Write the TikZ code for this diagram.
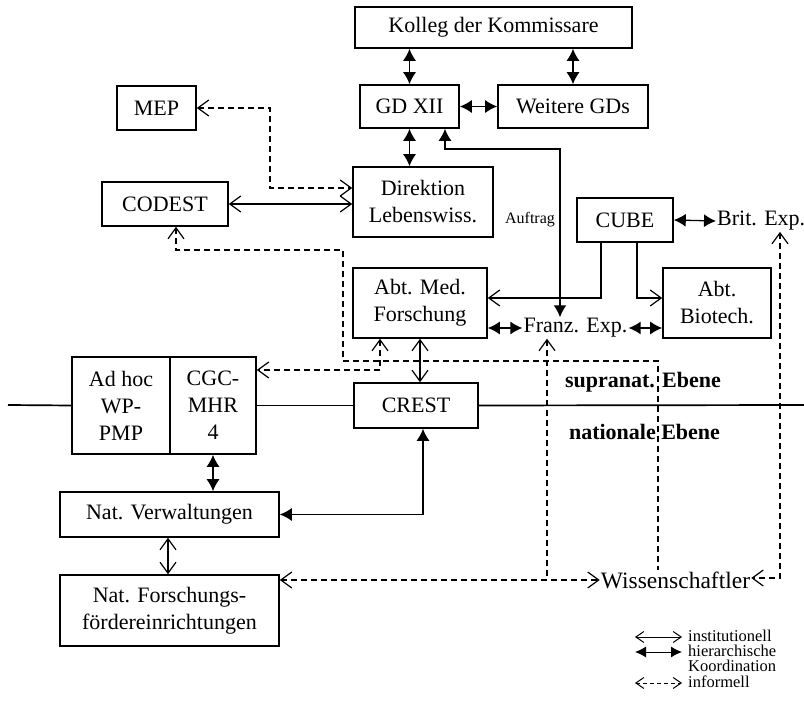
\documentclass[tikz,border=0pt]{standalone}
\usepackage{fontspec}
\setmainfont{Liberation Serif}
\usetikzlibrary{arrows.meta}
\begin{document}
\begin{tikzpicture}[x=1pt,y=-1pt,
  box/.style 2 args={draw, line width=1.6pt, inner sep=0pt, align=center,
    minimum width=#1, minimum height=#2, font=\fontsize{22}{27}\selectfont},
  lbl/.style={inner sep=1pt, font=\fontsize{22}{27}\selectfont},
  conn/.style={line width=1.3pt},
  ob/.tip={Straight Barb[length=11pt,width=16pt,line width=1.2pt]},
  fb/.tip={Latex[length=12pt,width=13pt]},
  inst/.style={conn, ob-ob},
  instend/.style={conn, -ob},
  hier/.style={conn, fb-fb},
  info/.style={conn, dash pattern=on 6pt off 4pt, ob-ob},
  infostart/.style={conn, dash pattern=on 6pt off 4pt, ob-},
  legtxt/.style={inner sep=0pt, anchor=west, text height=10pt, text depth=1pt,
    font=\fontsize{16.5}{16}\selectfont}
]
\useasboundingbox (0,0) rectangle (804,714);

% boxes
\node[box={277pt}{41pt}] (kolleg) at (493.5,27.5) {Kolleg der Kommissare};
\node[box={99pt}{43pt}] (gd12) at (409.5,106.5) {GD XII};
\node[box={150pt}{43pt}] (wgd) at (573,106.5) {Weitere GDs};
\node[box={79pt}{44pt}] (mep) at (156.5,108) {MEP};
\node[box={140pt}{70pt}] (direk) at (423,202) {Direktion\\Lebenswiss.};
\node[box={126pt}{44pt}] (codest) at (165,204) {CODEST};
\node[box={96pt}{44pt}] (cube) at (625,220) {CUBE};
\node[box={134pt}{70pt}] (abtmed) at (420,303) {Abt. Med.\\Forschung};
\node[box={108pt}{70pt}] (biotech) at (717,303) {Abt.\\Biotech.};
\node[box={98pt}{97pt}] (adhoc) at (121,405.5) {Ad hoc\\WP-\\PMP};
\node[box={86pt}{97pt}] (cgc) at (213,405.5) {CGC-\\MHR\\4};
\node[box={124pt}{45pt}] (crest) at (416,405.5) {CREST};
\node[box={219pt}{45pt}] (natv) at (169.5,514.5) {Nat. Verwaltungen};
\node[box={219pt}{71pt}] (natf) at (169.5,610.5) {Nat. Forschungs-\\fördereinrichtungen};

% text nodes
\node[lbl] (franz) at (575.5,328) {Franz. Exp.};
\node[lbl, anchor=west] (brit) at (716,221) {Brit. Exp.};
\node[lbl, font=\fontsize{23.5}{27}\selectfont] (wiss) at (675.5,580) {Wissenschaftler};
\node[inner sep=0pt, font=\fontsize{16}{18}\selectfont] (auftrag) at (530,220) {Auftrag};
\node[inner sep=0pt, font=\fontsize{22}{27}\selectfont\bfseries] (supra) at (643,382) {supranat. Ebene};
\node[inner sep=0pt, font=\fontsize{22}{27}\selectfont\bfseries] (natl) at (644.5,432) {nationale Ebene};

% level line
\draw[line width=1.7pt] (8,405) -- (adhoc.west);
\draw[line width=1.7pt] (cgc.east) -- (crest.west);
\draw[line width=1.7pt] (crest.east) -- (804,405);

% hierarchical
\draw[hier] (gd12.north) -- (gd12.north |- kolleg.south);
\draw[hier] (wgd.north) -- (wgd.north |- kolleg.south);
\draw[hier] (gd12.east) -- (wgd.west);
\draw[hier] (gd12.south) -- (gd12.south |- direk.north);
\draw[hier] (445,0 |- gd12.south) |- (560,149) -- (560,0 |- franz.north);
\draw[hier] (cube.east) -- (brit.west);
\draw[hier] (abtmed.east |- franz.west) -- (franz.west);
\draw[hier] (franz.east) -- (biotech.west |- franz.east);
\draw[hier] (cgc.south) -- (cgc.south |- natv.north);
\draw[hier] (natv.east) -| (423,0 |- crest.south);

% institutional
\draw[inst] (codest.east) -- (direk.west |- codest.east);
\draw[instend] (601,0 |- cube.south) |- (abtmed.east |- 0,298);
\draw[instend] (637,0 |- cube.south) |- (biotech.west |- 0,298);
\draw[inst] (abtmed.south) -- (abtmed.south |- crest.north);
\draw[inst] (168,0 |- natv.south) -- (168,0 |- natf.north);

% informal
\draw[info] (mep.east) -- (270,0 |- mep.east) |- (direk.west |- 0,188);
\draw[infostart] (176,0 |- codest.south) |- (343,250) |- (658,361) -- (658,0 |- wiss.north);
\draw[info] (380,0 |- abtmed.south) |- (cgc.east |- 0,370);
\draw[infostart] (547,0 |- franz.south) -- (547,580);
\draw[info] (natf.east |- 0,580) -- (wiss.west |- 0,580);
\draw[info] (780,0 |- brit.south) -- (780,578) -- (wiss.east |- 0,578);

% legend
\coordinate (l1a) at (635,637); \coordinate (l1b) at (682,637);
\coordinate (l2a) at (635,652); \coordinate (l2b) at (682,652);
\coordinate (l3a) at (635,683); \coordinate (l3b) at (682,683);
\draw[conn, line width=1pt, {Straight Barb[length=8pt,width=11pt]}-{Straight Barb[length=8pt,width=11pt]}] (l1a) -- (l1b);
\draw[conn, line width=1pt, {Latex[length=11pt,width=11pt]}-{Latex[length=11pt,width=11pt]}] (l2a) -- (l2b);
\draw[conn, line width=1pt, dash pattern=on 4pt off 3pt, {Straight Barb[length=8pt,width=11pt]}-{Straight Barb[length=8pt,width=11pt]}] (l3a) -- (l3b);
\node[legtxt] (t1) at (688,637) {institutionell};
\node[legtxt] (t2) at (688,652) {hierarchische};
\node[legtxt] (t3) at (688,667) {Koordination};
\node[legtxt] (t4) at (688,683) {informell};
\end{tikzpicture}
\end{document}
